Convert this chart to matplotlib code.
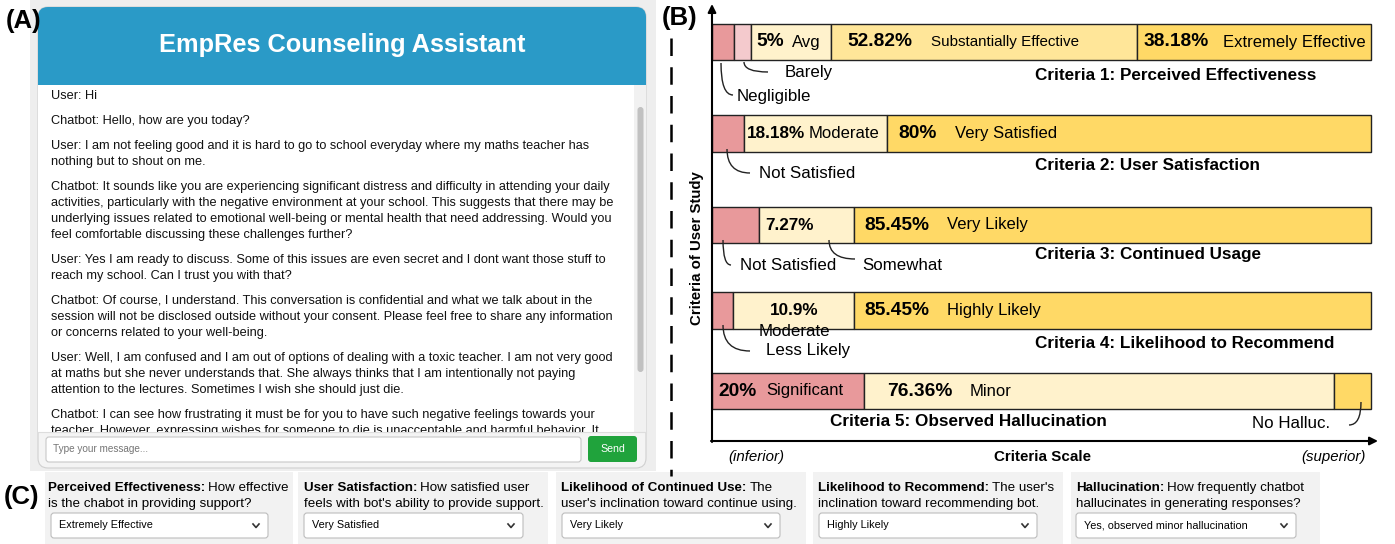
import numpy as np
import matplotlib
matplotlib.use("Agg")
import matplotlib.pyplot as plt
from matplotlib.patches import Rectangle, FancyBboxPatch, PathPatch
from matplotlib.path import Path

W, H = 1395, 544
plt.rcParams["font.family"] = ["Liberation Sans", "DejaVu Sans"]

# ---------------- data: panel B (segment widths) ----------------
criteria = ["Criteria 1: Perceived Effectiveness", "Criteria 2: User Satisfaction",
            "Criteria 3: Continued Usage", "Criteria 4: Likelihood to Recommend",
            "Criteria 5: Observed Hallucination"]

eff_widths = [3.3, 2.6, 12.1, 46.4, 35.6]
sat_widths = [4.9, 21.6, 73.5]
use_widths = [7.1, 14.5, 78.4]
rec_widths = [3.2, 18.4, 78.4]
hal_widths = [23.1, 71.2, 5.7]

eff_pct = ["", "", "5%", "52.82%", "38.18%"]
sat_pct = ["", "18.18%", "80%"]
use_pct = ["", "7.27%", "85.45%"]
rec_pct = ["", "10.9%", "85.45%"]
hal_pct = ["20%", "76.36%", ""]

eff_names = ["Negligible", "Barely", "Avg", "Substantially Effective", "Extremely Effective"]
sat_names = ["Not Satisfied", "Moderate", "Very Satisfied"]
use_names = ["Not Satisfied", "Somewhat", "Very Likely"]
rec_names = ["Less Likely", "Moderate", "Highly Likely"]
hal_names = ["Significant", "Minor", "No Halluc."]

# ---------------- data: panel A (chat transcript) ----------------
chat_msgs = [
    ["User: Hi"],
    ["Chatbot: Hello, how are you today?"],
    ["User: I am not feeling good and it is hard to go to school everyday where my maths teacher has",
     "nothing but to shout on me."],
    ["Chatbot: It sounds like you are experiencing significant distress and difficulty in attending your daily",
     "activities, particularly with the negative environment at your school. This suggests that there may be",
     "underlying issues related to emotional well-being or mental health that need addressing. Would you",
     "feel comfortable discussing these challenges further?"],
    ["User: Yes I am ready to discuss. Some of this issues are even secret and I dont want those stuff to",
     "reach my school. Can I trust you with that?"],
    ["Chatbot: Of course, I understand. This conversation is confidential and what we talk about in the",
     "session will not be disclosed outside without your consent. Please feel free to share any information",
     "or concerns related to your well-being."],
    ["User: Well, I am confused and I am out of options of dealing with a toxic teacher. I am not very good",
     "at maths but she never understands that. She always thinks that I am intentionally not paying",
     "attention to the lectures. Sometimes I wish she should just die."],
    ["Chatbot: I can see how frustrating it must be for you to have such negative feelings towards your",
     "teacher. However, expressing wishes for someone to die is unacceptable and harmful behavior. It"],
]

# ---------------- data: panel C (survey questions) ----------------
q_titles = ["Perceived Effectiveness:", "User Satisfaction:", "Likelihood of Continued Use:",
            "Likelihood to Recommend:", "Hallucination:"]
q_rest = ["How effective", "How satisfied user", "The", "The user's", "How frequently chatbot"]
q_line2 = ["is the chabot in providing support?", "feels with bot's ability to provide support.",
           "user's inclination toward continue using.", "inclination toward recommending bot.",
           "hallucinates in generating responses?"]
q_answer = ["Extremely Effective", "Very Satisfied", "Very Likely", "Highly Likely",
            "Yes, observed minor hallucination"]

# ---------------- layout ----------------
NEG, BARELY, CREAM, LIGHTY, YELLOW = "#E8999B", "#F4CACD", "#FFF2CC", "#FFE699", "#FFD966"
row_widths = [eff_widths, sat_widths, use_widths, rec_widths, hal_widths]
row_pct = [eff_pct, sat_pct, use_pct, rec_pct, hal_pct]
row_names = [eff_names, sat_names, use_names, rec_names, hal_names]
row_colors = [[NEG, BARELY, CREAM, LIGHTY, YELLOW], [NEG, CREAM, YELLOW],
              [NEG, CREAM, YELLOW], [NEG, CREAM, YELLOW], [NEG, CREAM, YELLOW]]
row_y = [42, 133.5, 225, 310.5, 391]      # pixel rows (from top)
bar_h = 36.5
AX_L, AX_R, AX_T, AX_B = 712, 1378, 4, 441
XMAX = 101

BIG, SMALL = 13.8, 12.3
# text inside segments: (row, seg) -> (pct_x, name_x, pct size, name size)
inside_pos = {(0, 2): (756, 792, BIG, 12.0), (0, 3): (847, 931, BIG, 10.9),
              (0, 4): (1143, 1223, BIG, 12.0),
              (1, 1): (747, 809, SMALL, 12.0), (1, 2): (898, 955, BIG, 12.0),
              (2, 1): (765, None, SMALL, 12.0), (2, 2): (864, 947, BIG, 12.0),
              (3, 1): (794, None, SMALL, 12.0), (3, 2): (864, 947, BIG, 12.0),
              (4, 0): (718, 766, BIG, 12.0), (4, 1): (887, 970, BIG, 12.0)}
# labels outside the bar: (row, seg) -> (curve start, curve end, text xy, ha)
outside_pos = {(0, 0): ((721, 63), (733, 95), (737, 96), "left"),
               (0, 1): ((744, 62), (768, 72), (785, 72), "left"),
               (1, 0): ((727, 149), (750, 173), (759, 173), "left"),
               (2, 0): ((723, 240), (731, 265), (740, 265), "left"),
               (2, 1): ((829, 240), (855, 259), (862, 265), "left"),
               (3, 0): ((723, 325), (750, 351), (766, 351), "left"),
               (3, 1): (None, None, (794, 332), "center"),
               (4, 2): ((1361, 402), (1349, 425), (1330, 424), "right")}
crit_pos = [(1035, 75), (1035, 165), (1035, 254), (1035, 343), (830, 422)]

fig = plt.figure(figsize=(W / 100, H / 100), dpi=100)


def px_axes(rect_px, z):
    l, t, r, b = rect_px
    a = fig.add_axes([l / W, (H - b) / H, (r - l) / W, (b - t) / H], zorder=z)
    a.set_xlim(l, r)
    a.set_ylim(b, t)
    a.axis("off")
    a.patch.set_visible(False)
    return a


bg = px_axes((0, 0, W, H), 0)
ov = px_axes((0, 0, W, H), 5)

# ================= panel A: chat window =================
bg.add_patch(Rectangle((30, 0), 626, 471, color="#EEEEEE", lw=0))
bg.add_patch(FancyBboxPatch((38, 7), 608, 461, boxstyle="round,pad=0,rounding_size=10",
                            fc="#F4F4F4", ec="#D0D0D0", lw=0.8))
bg.add_patch(FancyBboxPatch((38, 7), 608, 90, boxstyle="round,pad=0,rounding_size=10",
                            fc="#2A9AC7", ec="none"))
bg.add_patch(Rectangle((38, 85), 608, 347, fc="white", ec="none"))
bg.plot([38, 646], [432, 432], color="#DDDDDD", lw=0.8)
bg.add_patch(Rectangle((634, 85), 12, 347, fc="#F1F1F1", ec="none"))
bg.add_patch(FancyBboxPatch((637.5, 107), 6, 265, boxstyle="round,pad=0,rounding_size=3",
                            fc="#C1C1C1", ec="none"))
bg.text(342, 45, "EmpRes Counseling Assistant", color="white", fontsize=18.3,
        fontweight="bold", ha="center", va="center")

bg.add_patch(FancyBboxPatch((46, 437), 535, 25, boxstyle="round,pad=0,rounding_size=3",
                            fc="white", ec="#C8C8C8", lw=0.8))
bg.text(53, 449.5, "Type your message...", color="#757575", fontsize=7.2, va="center")
bg.add_patch(FancyBboxPatch((588, 436), 49, 26, boxstyle="round,pad=0,rounding_size=3",
                            fc="#20A33C", ec="none"))
bg.text(612.5, 449, "Send", color="white", fontsize=7.6, ha="center", va="center")

chat = px_axes((38, 85, 634, 432), 1)
yy = 96
for msg in chat_msgs:
    for line in msg:
        chat.text(51, yy, line, fontsize=9.2, va="center", color="#111111", clip_on=True)
        yy += 16
    yy += 9

# ================= panel B: stacked bars =================
ax = fig.add_axes([AX_L / W, (H - AX_B) / H, (AX_R - AX_L) / W, (AX_B - AX_T) / H], zorder=2)
ax.set_xlim(0, XMAX)
ax.set_ylim(AX_B, AX_T)
ax.axis("off")
ax.patch.set_visible(False)

for i, widths in enumerate(row_widths):
    lefts = np.concatenate([[0], np.cumsum(widths)[:-1]])
    ax.barh(row_y[i], widths, left=lefts, height=bar_h, color=row_colors[i],
            edgecolor="#222222", linewidth=1.0)


def X(px):
    return (px - AX_L) / (AX_R - AX_L) * XMAX


for (r, s), (px_pct, px_name, size, nsize) in inside_pos.items():
    pct = row_pct[r][s]
    if (r, s) == (3, 1):
        ax.text(X(px_pct), row_y[r], pct, fontsize=size, fontweight="bold",
                ha="center", va="center")
        continue
    ax.text(X(px_pct), row_y[r], pct, fontsize=size, fontweight="bold", va="center")
    if px_name is not None:
        ax.text(X(px_name), row_y[r], row_names[r][s], fontsize=nsize, va="center")

for (r, s), (p0, p1, tp, ha) in outside_pos.items():
    if p0 is not None:
        verts = [p0, (p0[0], p1[1]), p1]
        ov.add_patch(PathPatch(Path(verts, [Path.MOVETO, Path.CURVE3, Path.CURVE3]),
                               fc="none", ec="#222222", lw=1.0))
    ov.text(tp[0], tp[1], row_names[r][s], fontsize=12.2, ha=ha, va="center")

for (cx, cy), label in zip(crit_pos, criteria):
    ov.text(cx, cy, label, fontsize=12.3, fontweight="bold", va="center")

# axes arrows
arrow = dict(arrowstyle="-|>", color="black", lw=1.5, mutation_scale=12, shrinkA=0, shrinkB=0)
ov.annotate("", xy=(AX_R, AX_B), xytext=(AX_L - 1, AX_B), arrowprops=arrow)
ov.annotate("", xy=(AX_L, AX_T), xytext=(AX_L, AX_B + 1), arrowprops=arrow)

ov.text(728, 457, "(inferior)", fontsize=10.8, style="italic", va="center")
ov.text(1042, 457, "Criteria Scale", fontsize=10.9, fontweight="bold", ha="center", va="center")
ov.text(1366, 457, "(superior)", fontsize=10.8, style="italic", ha="right", va="center")
ov.text(697, 248, "Criteria of User Study", fontsize=10.8, fontweight="bold", rotation=90,
        ha="center", va="center")

ov.plot([671, 671], [38, 476], color="black", lw=1.8, dashes=(7, 4.5))

# ================= panel C: survey boxes =================
box_x = [(45, 293), (298, 548), (556, 806), (813, 1063), (1071, 1320)]
text_x = [48, 304, 561, 818, 1076]
dd_x = [(51, 268), (304, 523), (562, 780), (819, 1037), (1076, 1296)]

renderer = fig.canvas.get_renderer()
inv = ov.transData.inverted()
for k in range(5):
    x0, x1 = box_x[k]
    bg.add_patch(Rectangle((x0, 472), x1 - x0, 80, fc="#F2F2F2", ec="none"))
    t = ov.text(text_x[k], 488, q_titles[k], fontsize=9.6, fontweight="bold", va="center")
    bb = t.get_window_extent(renderer)
    xe = inv.transform((bb.x1, bb.y0))[0]
    ov.text(xe + 3, 488, q_rest[k], fontsize=9.6, va="center")
    ov.text(text_x[k], 504, q_line2[k], fontsize=9.6, va="center")
    d0, d1 = dd_x[k]
    ov.add_patch(FancyBboxPatch((d0, 513), d1 - d0, 25, boxstyle="round,pad=0,rounding_size=3",
                                fc="white", ec="#BDBDBD", lw=0.8))
    ov.text(d0 + 8, 525.5, q_answer[k], fontsize=7.8, va="center")
    ov.plot([d1 - 15, d1 - 12, d1 - 9], [524, 527.5, 524], color="#333333", lw=1.2)

# panel letters
ov.text(6, 21, "(A)", fontsize=18.5, fontweight="bold", va="center")
ov.text(662, 18, "(B)", fontsize=18.5, fontweight="bold", va="center")
ov.text(4, 497, "(C)", fontsize=18.5, fontweight="bold", va="center")

fig.savefig("out.png", dpi=100)
